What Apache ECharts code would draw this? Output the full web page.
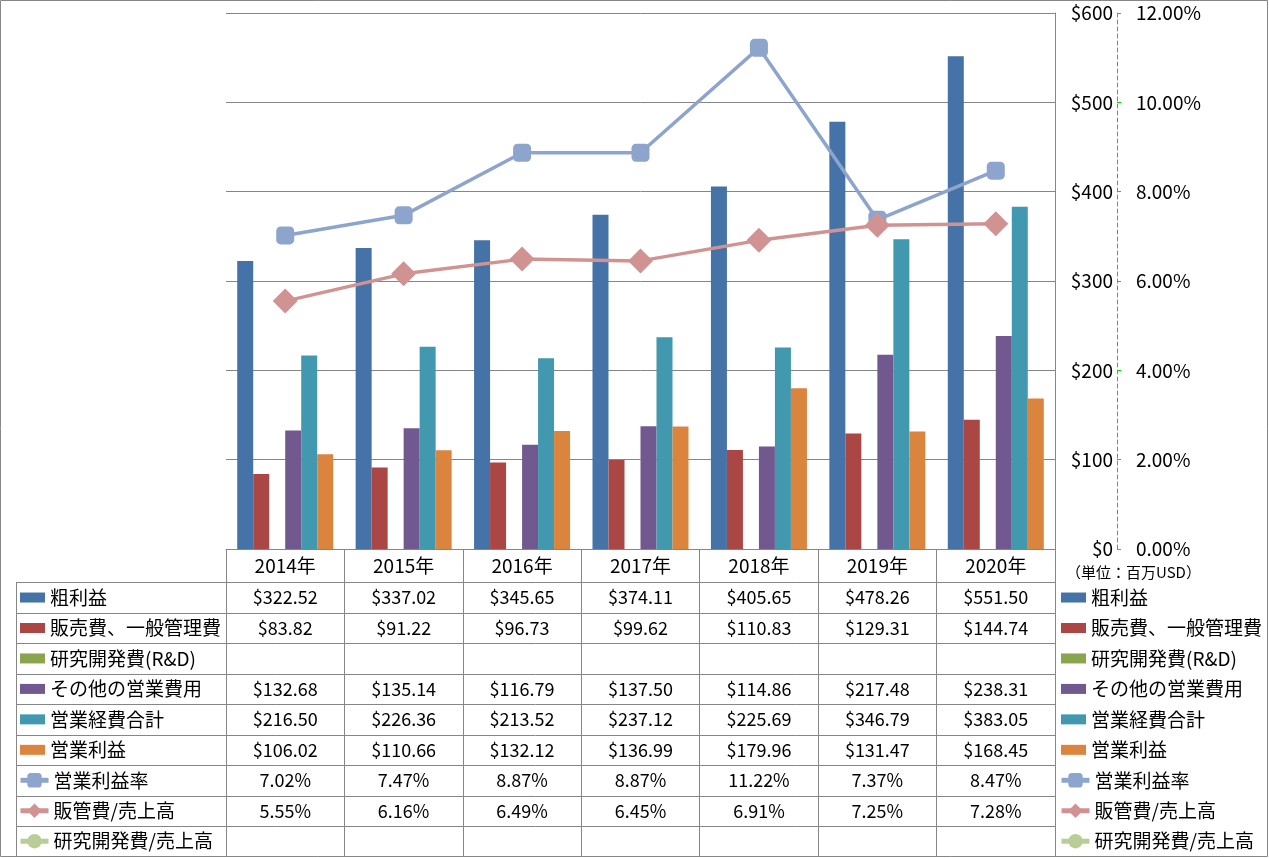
<!DOCTYPE html>
<html>
<head>
<meta charset="utf-8">
<script src="https://cdn.jsdelivr.net/npm/echarts@6/dist/echarts.min.js"></script>
<style>
html,body{margin:0;padding:0;background:#fff;}
#chart{width:1269px;height:858px;}
</style>
</head>
<body>
<div id="chart"></div>
<script>
// ---- data ----
const years = ['2014年','2015年','2016年','2017年','2018年','2019年','2020年'];
const grossProfit   = [322.52, 337.02, 345.65, 374.11, 405.65, 478.26, 551.50];
const sga           = [83.82, 91.22, 96.73, 99.62, 110.83, 129.31, 144.74];
const rnd           = [null, null, null, null, null, null, null];
const otherOpEx     = [132.68, 135.14, 116.79, 137.50, 114.86, 217.48, 238.31];
const totalOpEx     = [216.50, 226.36, 213.52, 237.12, 225.69, 346.79, 383.05];
const opIncome      = [106.02, 110.66, 132.12, 136.99, 179.96, 131.47, 168.45];
const opMargin      = [7.02, 7.47, 8.87, 8.87, 11.22, 7.37, 8.47];
const sgaRatio      = [5.55, 6.16, 6.49, 6.45, 6.91, 7.25, 7.28];
const rndRatio      = [null, null, null, null, null, null, null];
const leftTicks     = [0, 100, 200, 300, 400, 500, 600];
const rightTicks    = [0, 2, 4, 6, 8, 10, 12];
const barNames  = ['粗利益','販売費、一般管理費','研究開発費(R&D)','その他の営業費用','営業経費合計','営業利益'];
const lineNames = ['営業利益率','販管費/売上高','研究開発費/売上高'];
const unitLabel = '（単位：百万USD）';

const barData  = [grossProfit, sga, rnd, otherOpEx, totalOpEx, opIncome];
const lineData = [opMargin, sgaRatio, rndRatio];
const barColors  = ['#4572A7','#AA4643','#89A54E','#71588F','#4198AF','#DB843D'];
const lineColors = ['#8DA5CD','#D09392','#B9CD96'];
const lineSymbols = ['roundRect','diamond','circle'];
const lineSymbolSizes = [18, 25, 18];

const FONT = '"Noto Sans CJK JP", "Noto Sans", sans-serif';
const GRAY = '#868686';

const chart = echarts.init(document.getElementById('chart'));

const series = [];
barNames.forEach((n, i) => {
  series.push({
    name: n, type: 'bar', data: barData[i], barWidth: 16, barGap: '0%',
    itemStyle: { color: barColors[i] }, z: 2
  });
});
lineNames.forEach((n, i) => {
  series.push({
    name: n, type: 'line', yAxisIndex: 1, data: lineData[i],
    symbol: lineSymbols[i], symbolSize: lineSymbolSizes[i],
    lineStyle: { color: lineColors[i], width: 3.5 },
    itemStyle: { color: lineColors[i] }, z: 5
  });
});

const rowTop = 582.3, rowH = 30.46;
function legendCfg(left, data, firstRow, itemHeight, itemWidth, icon) {
  const cfg = {
    orient: 'vertical', left: left, top: rowTop + rowH * firstRow + rowH / 2 - 10,
    padding: 0, itemGap: rowH - 20, itemWidth: itemWidth, itemHeight: itemHeight,
    selectedMode: false, data: data,
    textStyle: { fontFamily: FONT, fontSize: 19, color: '#000', lineHeight: 20 }
  };
  if (icon) cfg.icon = icon;
  else cfg.lineStyle = { width: 5 };
  return cfg;
}

const option = {
  animation: false,
  backgroundColor: '#fff',
  grid: { left: 226, right: 214, top: 13, bottom: 309, containLabel: false },
  legend: [
    legendCfg(20, barNames, 0, 10, 25, 'rect'),
    legendCfg(18, lineNames, 6, 18, 28, null),
    legendCfg(1061, barNames, 0, 10, 25, 'rect'),
    legendCfg(1059, lineNames, 6, 18, 28, null)
  ],
  xAxis: {
    type: 'category', data: years,
    axisLine: { show: true, lineStyle: { color: GRAY, width: 1 } },
    axisTick: { show: true, interval: 0, length: 307, lineStyle: { color: GRAY } },
    axisLabel: { interval: 0, margin: 7, fontFamily: FONT, fontSize: 19, color: '#000' },
    splitLine: { show: false }
  },
  yAxis: [
    {
      type: 'value', position: 'right', min: leftTicks[0], max: leftTicks[leftTicks.length - 1], interval: 100,
      axisLine: { show: true, lineStyle: { color: GRAY } },
      axisTick: { show: false },
      axisLabel: { formatter: v => '$' + v, align: 'right', margin: 58, fontFamily: FONT, fontSize: 19, color: '#000' },
      splitLine: { show: true, lineStyle: { color: GRAY, width: 1 } }
    },
    {
      type: 'value', position: 'right', offset: 62, min: rightTicks[0], max: rightTicks[rightTicks.length - 1], interval: 2,
      axisLine: { show: true, lineStyle: { color: '#00E000', type: [4, 3], width: 1 } },
      axisTick: { show: true, length: 4, lineStyle: { color: '#00E000' } },
      axisLabel: { formatter: v => v.toFixed(2) + '%', align: 'left', margin: 19, fontFamily: FONT, fontSize: 19, color: '#000' },
      splitLine: { show: false }
    }
  ],
  series: series
};
chart.setOption(option);

// ---- data table (cells built from the arrays above) ----
const graphic = [];
graphic.push({ type: 'rect', shape: { x: 0.5, y: 0.5, width: 1267, height: 856 },
  style: { fill: null, stroke: GRAY, lineWidth: 1 }, silent: true });
for (let i = 0; i < 9; i++) {
  const y = Math.round(rowTop + rowH * i) + 0.5;
  graphic.push({ type: 'line', shape: { x1: 16, y1: y, x2: 1055, y2: y },
    style: { stroke: GRAY, lineWidth: 1 }, silent: true });
}
graphic.push({ type: 'line', shape: { x1: 16.5, y1: Math.round(rowTop) + 0.5, x2: 16.5, y2: 857 },
  style: { stroke: GRAY, lineWidth: 1 }, silent: true });

const rows = [];
barData.forEach(arr => rows.push(arr.map(v => v == null ? '' : '$' + v.toFixed(2))));
lineData.forEach(arr => rows.push(arr.map(v => v == null ? '' : v.toFixed(2) + '%')));
rows.forEach((r, ri) => {
  r.forEach((txt, ci) => {
    if (!txt) return;
    const x = chart.convertToPixel({ xAxisIndex: 0 }, ci);
    graphic.push({ type: 'text', x: x, y: rowTop + rowH * ri + rowH / 2, silent: true,
      style: { text: txt, fontFamily: FONT, fontSize: 18, fill: '#000', align: 'center', verticalAlign: 'middle' } });
  });
});
graphic.push({ type: 'text', x: 1066, y: 572, silent: true,
  style: { text: unitLabel, fontFamily: FONT, fontSize: 15, fill: '#000', align: 'left', verticalAlign: 'middle' } });

chart.setOption({ graphic: graphic });
</script>
</body>
</html>
